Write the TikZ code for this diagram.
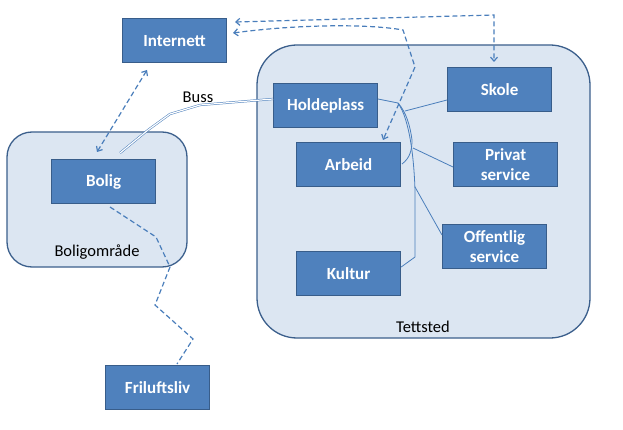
\documentclass[tikz,border=0pt]{standalone}
\usepackage{fontspec}
\setmainfont{Carlito}
\usetikzlibrary{arrows.meta,calc}
\definecolor{boxfill}{HTML}{4F81BD}
\definecolor{boxline}{HTML}{385D8A}
\definecolor{areafill}{HTML}{DCE6F2}
\definecolor{arealine}{HTML}{3B5F8C}
\definecolor{conn}{HTML}{4A7EBB}
\begin{document}
\begin{tikzpicture}[x=1pt,y=-1pt,
  item/.style={draw=boxline,line width=1.2pt,fill=boxfill,text=white,font=\bfseries\fontsize{17}{20}\selectfont,
    minimum width=104pt,minimum height=44pt,inner sep=0pt,align=center,anchor=north west},
  area/.style={draw=arealine,line width=1.3pt,fill=areafill},
  lbl/.style={font=\fontsize{16.5}{18}\selectfont,text=black},
  dashconn/.style={draw=conn,line width=1.2pt,dash pattern=on 5pt off 3pt},
  thin/.style={draw=conn,line width=0.8pt},
  tip/.style={{Straight Barb[length=4pt,width=7pt]}-{Straight Barb[length=4pt,width=7pt]}}]
\useasboundingbox (0,0) rectangle (623,430);
% areas
\draw[area,rounded corners=40pt] (257,45) rectangle (590,338);
\draw[area,rounded corners=25pt] (7,132) rectangle (187,267);
\node[lbl] (tettsted) at (423,327) {Tettsted};
\node[lbl] (boligomr) at (97,252) {Boligområde};
% items
\node[item] (internett) at (122,18) {Internett};
\node[item] (holdeplass) at (273,83) {Holdeplass};
\node[item] (skole) at (447,67) {Skole};
\node[item] (arbeid) at (296,142) {Arbeid};
\node[item] (privat) at (453,142) {Privat\\service};
\node[item] (offentlig) at (442,224) {Offentlig\\service};
\node[item] (kultur) at (296,251) {Kultur};
\node[item] (bolig) at (51,159) {Bolig};
\node[item] (friluft) at (105,365) {Friluftsliv};
% coordinates
\coordinate (ib1) at (97,152);
\coordinate (ib2) at (147,70);
\coordinate (is1) at (235,22);
\coordinate (is2) at (494,15);
\coordinate (is3) at (494,62);
\coordinate (ia1) at (233,33);
\coordinate (ia3) at (383,140);
\coordinate (bf1) at (110,207);
\coordinate (bf2) at (177,364);
\coordinate (bus1) at (120,153);
\coordinate (hd) at (378,99);
\coordinate (jn) at (398,103);
% dashed connectors
\draw[dashconn,tip] (ib1) -- (ib2);
\draw[dashconn,tip] (is1) -- (is2) -- (is3);
\draw[dashconn,tip] (ia1) .. controls (300,24) and (370,24) .. (403,30) -- (415,67) -- (ia3);
\draw[dashconn] (bf1) -- (156,237) -- (170,267) -- (155,305) -- (193,339) -- (bf2);
% bus
\draw[conn,line width=0.5pt,double=white,double distance=1.2pt] (bus1) -- (148,130) -- (170,114) -- (200,105) -- (holdeplass.west |- 0,99);
\node[lbl] (buss) at (198,97) {Buss};
% thin network
\draw[thin] (hd) -- (jn);
\draw[thin] (jn) .. controls (406,112) and (410,125) .. (412,140) .. controls (412,150) and (410,158) .. (402,164);
\draw[thin] (jn) .. controls (410,120) and (414,160) .. (415,190) -- (415,257) -- (kultur.east |- 0,267);
\draw[thin] (405,111) -- (skole.west |- 0,100);
\draw[thin] (413,148) -- (privat.west |- 0,167);
\draw[thin] (415,187) -- (offentlig.west |- 0,235);
\end{tikzpicture}
\end{document}
